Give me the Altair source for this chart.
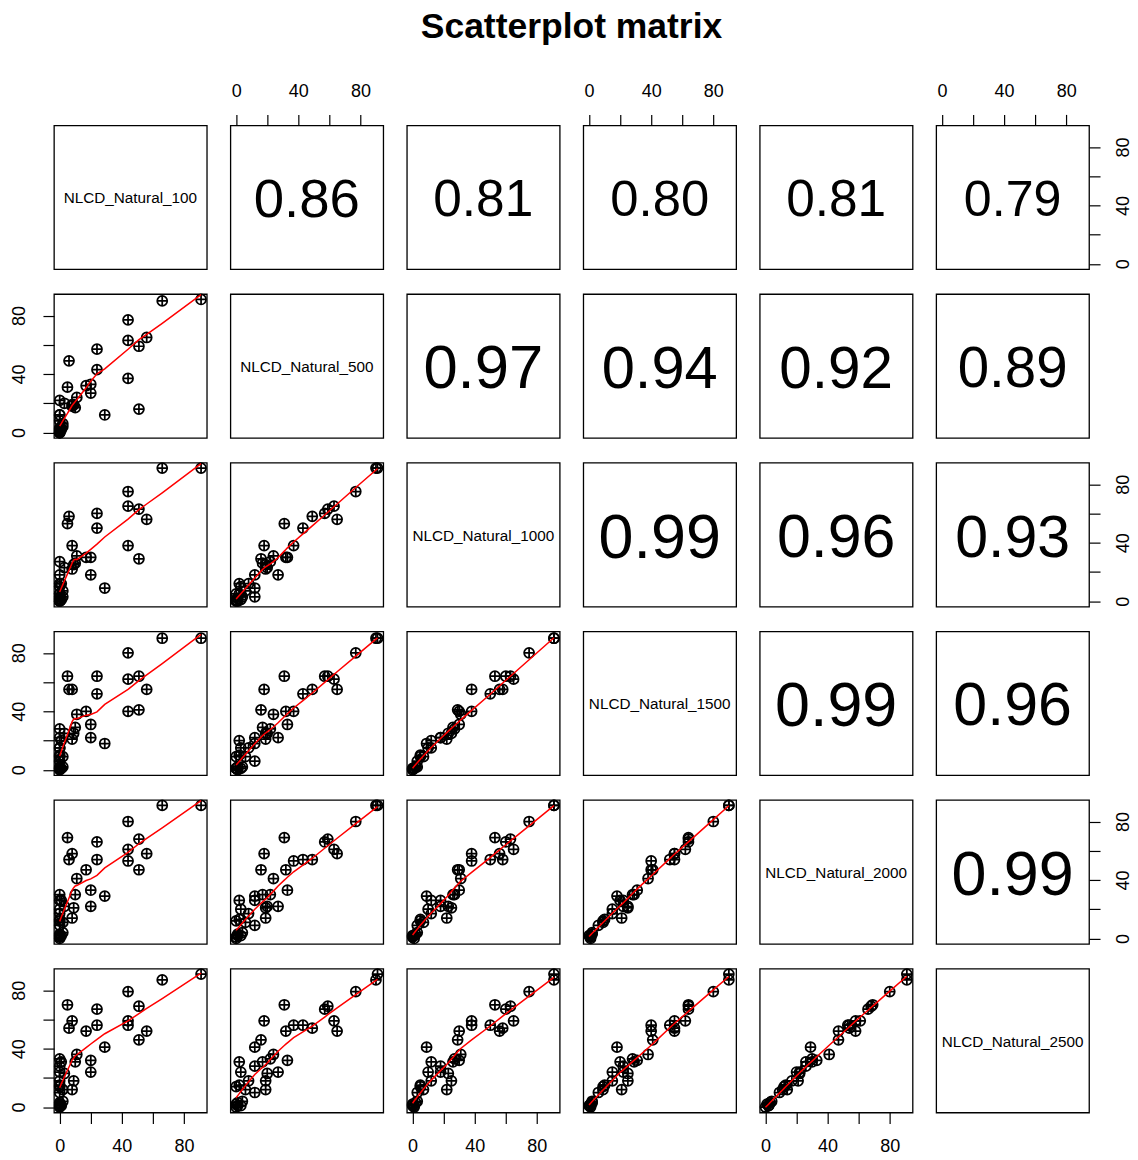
import altair as alt
import pandas as pd

var_names = ["NLCD_Natural_100", "NLCD_Natural_500", "NLCD_Natural_1000",
             "NLCD_Natural_1500", "NLCD_Natural_2000", "NLCD_Natural_2500"]

# one value per site
nat_100 = [91, 66, 44, 44, 44, 51, 51, 56, 24, 24, 17, 20, 20, 29, 5, 6, 8, 11, 10, 9, 8, 3,
           0, 0, 1, 0, 0, 0, 2, 0, 0, 1, 0, 2, 0, 0, 0]
nat_500 = [91, 90, 77, 63, 37, 59, 16, 65, 57, 43, 32, 33, 27, 12, 31, 49, 18, 24, 17, 19, 19, 20,
           12, 8, 2, 3, 0, 2, 6, 1, 0, 3, 0, 4, 1, 22, 12]
nat_1000 = [91, 91, 75, 65, 38, 63, 29, 56, 60, 50, 30, 30, 18, 9, 53, 58, 38, 31, 26, 25, 22, 23,
            18, 12, 12, 10, 5, 5, 7, 2, 0, 1, 1, 3, 0, 27, 3]
nat_1500 = [90, 90, 80, 62, 40, 64, 41, 55, 64, 52, 40, 31, 22, 18, 64, 55, 55, 38, 29, 25, 21, 25,
            22, 15, 20, 15, 9, 10, 9, 2, 1, 1, 1, 2, 0, 28, 6]
nat_2000 = [91, 91, 80, 61, 53, 68, 47, 58, 66, 54, 47, 33, 22, 29, 69, 54, 58, 41, 30, 21, 14, 22,
            26, 17, 26, 20, 12, 13, 11, 3, 1, 2, 0, 4, 2, 30, 9]
nat_2500 = [91, 87, 79, 59, 56, 69, 46, 52, 67, 56, 52, 32, 24, 41, 70, 54, 59, 36, 31, 18, 12, 23,
            28, 18, 31, 24, 14, 15, 12, 3, 2, 1, 0, 4, 1, 33, 10]

# correlations printed in the upper panels (row by row)
cor_row1 = [0.86, 0.81, 0.80, 0.81, 0.79]
cor_row2 = [0.97, 0.94, 0.92, 0.89]
cor_row3 = [0.99, 0.96, 0.93]
cor_row4 = [0.99, 0.96]
cor_row5 = [0.99]

tick_values = [0, 20, 40, 60, 80]

columns = [nat_100, nat_500, nat_1000, nat_1500, nat_2000, nat_2500]
df = pd.DataFrame({n: v for n, v in zip(var_names, columns)})
cor_rows = [cor_row1, cor_row2, cor_row3, cor_row4, cor_row5]

W, H = 153, 144
DOM = [-3.7, 94.7]
FONT = "Liberation Sans"
PCH10 = "M-1,0A1,1,0,1,0,1,0A1,1,0,1,0,-1,0ZM-1,0L1,0M0,-1L0,1"


def scale():
    return alt.Scale(domain=DOM, nice=False, zero=False)


def make_axis(orient):
    if orient is None:
        return None
    kw = dict(orient=orient, values=tick_values,
              labelExpr="datum.value % 40 == 0 ? datum.label : ''",
              title=None, grid=False, domain=False, tickSize=11,
              tickColor="black", tickWidth=1.2, labelColor="black",
              labelFont=FONT, labelFontSize=18, labelFlush=False,
              labelOverlap=False, labelPadding=14)
    if orient in ("left", "right"):
        kw.update(labelAngle=270, labelAlign="center",
                  labelBaseline="bottom" if orient == "left" else "top")
    else:
        kw.update(labelAngle=0, labelAlign="center",
                  labelBaseline="bottom" if orient == "top" else "top")
    return alt.Axis(**kw)


panels = []
for r in range(6):
    for c in range(6):
        xo = "top" if (c % 2 == 1 and r == 0) else ("bottom" if (c % 2 == 0 and r == 5) else None)
        yo = "left" if (r % 2 == 1 and c == 0) else ("right" if (r % 2 == 0 and c == 5) else None)
        xn, yn = var_names[c], var_names[r]
        enc_x = alt.X(f"{xn}:Q", scale=scale(), axis=make_axis(xo))
        enc_y = alt.Y(f"{yn}:Q", scale=scale(), axis=make_axis(yo))
        if r > c:
            pts = alt.Chart(df).mark_point(
                shape=PCH10, size=100, filled=False, stroke="black",
                strokeWidth=1.75, opacity=1).encode(x=enc_x, y=enc_y)
            line = alt.Chart(df).transform_loess(
                xn, yn, bandwidth=0.667).mark_line(
                color="red", strokeWidth=1.5).encode(x=enc_x, y=enc_y)
            panel = alt.layer(pts, line)
        else:
            if r == c:
                label = var_names[r]
                fs = 15.3
                ty = H / 2 + 1
            else:
                val = cor_rows[r][c - r - 1]
                label = f"{val:.2f}"
                fs = 63.5 * val
                ty = H / 2 + 4
            txt = alt.Chart(alt.Data(values=[{"t": label}])).mark_text(
                font=FONT, fontSize=fs, align="center", baseline="middle",
                color="black").encode(x=alt.value(W / 2), y=alt.value(ty),
                                      text="t:N")
            if xo or yo:
                ghost = alt.Chart(df).mark_point(opacity=0).encode(x=enc_x, y=enc_y)
                panel = alt.layer(ghost, txt)
            else:
                panel = txt
        panels.append(panel.properties(width=W, height=H))

chart = alt.concat(
    *panels, columns=6, spacing={"row": 24.8, "column": 23.6}, bounds="flush",
    title=alt.TitleParams("Scatterplot matrix", font=FONT, fontSize=35.5,
                          fontWeight="bold", anchor="middle", offset=36,
                          color="black"),
).configure_view(stroke="black", strokeWidth=1.3).properties(
    padding={"left": 10, "top": 9, "right": 5, "bottom": 5},
    background="white")

chart.save("out.html", embed_options={"renderer": "svg", "actions": False})
